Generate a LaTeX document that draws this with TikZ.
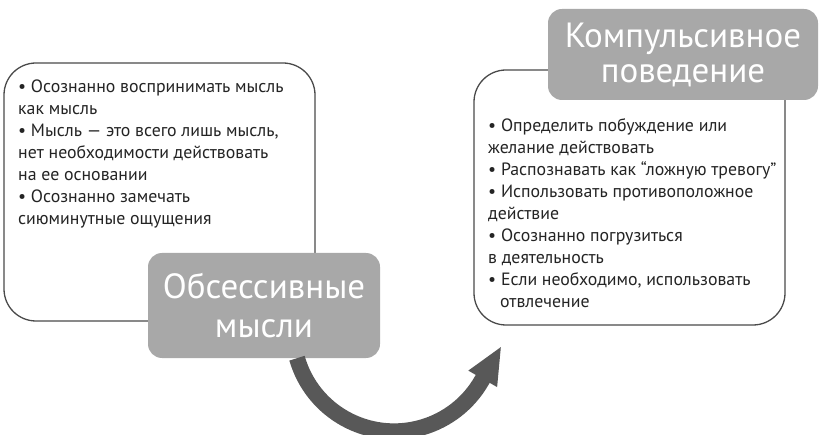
\documentclass[tikz,border=0pt]{standalone}
\usepackage{fontspec}
\setmainfont{PT Sans}
\usepackage{xcolor}
\usetikzlibrary{arrows.meta, positioning}
\definecolor{boxline}{HTML}{4A4A4A}
\definecolor{taggray}{HTML}{A8A8A8}
\definecolor{arrowgray}{HTML}{585858}
\definecolor{bodytext}{HTML}{242424}
\tikzset{
	listbox/.style={shape=rectangle, draw=boxline, line width=1.3pt, fill=white, rounded corners=32pt, inner sep=0pt},
	tagbox/.style={shape=rectangle, fill=taggray, rounded corners=14pt, inner sep=0pt, text=white, align=center},
	listtext/.style={anchor=north west, inner sep=0pt, align=left, text=bodytext, font=\fontsize{17.8}{22}\selectfont},
	cyclearrow/.style={draw=arrowgray, line width=16pt, -{Triangle[width=30pt, length=38pt]}}
}

\begin{document}
\begin{tikzpicture}[x=1pt, y=-1pt]
	\useasboundingbox (0, 0) rectangle (824, 435);
	% Boxes, labels and arrow:
	\node[listbox, minimum width=311pt, minimum height=258pt](obsbox) at (159.5, 192){};
	\node[listtext](obstext) at (18, 80){\textbullet\ Осознанно воспринимать мысль\\как мысль\\\textbullet\ Мысль — это всего лишь мысль,\\нет необходимости действовать\\на ее основании\\\textbullet\ Осознанно замечать\\сиюминутные ощущения};
	\node[tagbox, minimum width=232pt, minimum height=105pt, font=\fontsize{35}{39}\selectfont](obs) at (264, 305.5){Обсессивные\\мысли};
	\node[listbox, minimum width=311pt, minimum height=255pt](compbox) at (629.5, 197.5){};
	\node[listtext](comptext) at (488, 118){\textbullet\ Определить побуждение или\\желание действовать\\\textbullet\ Распознавать как “ложную тревогу”\\\textbullet\ Использовать противоположное\\действие\\\textbullet\ Осознанно погрузиться\\в деятельность\\\textbullet\ Если необходимо, использовать\\\makebox[12pt]{}отвлечение};
	\node[tagbox, minimum width=270pt, minimum height=91pt, font=\fontsize{35}{35}\selectfont](comp) at (683, 54.5){Компульсивное\\поведение};
	\draw[cyclearrow] ([xshift=33pt]obs.south) arc[start angle=164, end angle=30, radius=101] -- ++(20, -35);
\end{tikzpicture}
\end{document}
